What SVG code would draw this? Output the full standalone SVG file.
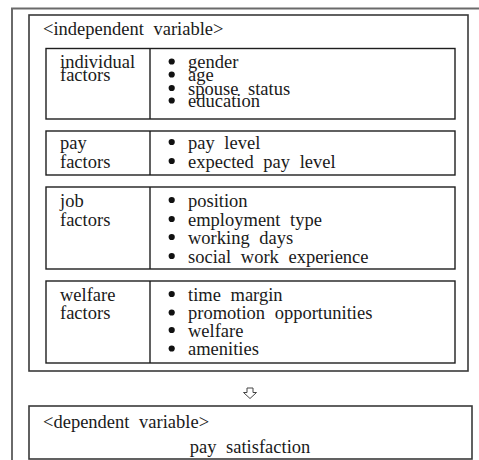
<svg xmlns="http://www.w3.org/2000/svg" width="479" height="460" viewBox="0 0 479 460">
<style>
text{font-family:'Liberation Serif','DejaVu Serif',serif;font-size:18.5px;fill:#1a1a1a;word-spacing:5px}
.frame{fill:none;stroke:#6a6a6a;stroke-width:2}
.box{fill:none;stroke:#3a3a3a;stroke-width:1.6}
.fbox{fill:none;stroke:#1e1e1e;stroke-width:1.4}
.bul{fill:#111}
.arrow{fill:#fff;stroke:#444;stroke-width:1}
</style>
<rect width="479" height="460" fill="#fff"/>
<path class="frame" d="M12,460 V8.5 H479"/>
<g id="independent">
<rect class="box" x="29" y="15" width="439" height="356"/>
<text x="43" y="35" font-family="Liberation Serif, serif">&lt;independent variable&gt;</text>
</g>
<g id="individual">
<rect class="fbox" x="46" y="48.5" width="409" height="70.5"/>
<line class="fbox" x1="150" y1="48.5" x2="150" y2="119"/>
<text x="60" y="68">individual</text>
<text x="60" y="81">factors</text>
<circle class="bul" cx="171.7" cy="61.5" r="3.1"/>
<circle class="bul" cx="171.7" cy="74.5" r="3.1"/>
<circle class="bul" cx="171.7" cy="88" r="3.1"/>
<circle class="bul" cx="171.7" cy="100.5" r="3.1"/>
<text x="188" y="68">gender</text>
<text x="188" y="81">age</text>
<text x="188" y="94.5">spouse status</text>
<text x="188" y="107">education</text>
</g>
<g id="pay">
<rect class="fbox" x="46" y="131" width="409" height="44"/>
<line class="fbox" x1="150" y1="131" x2="150" y2="175"/>
<text x="60" y="148.5">pay</text>
<text x="60" y="167.5">factors</text>
<circle class="bul" cx="171.7" cy="142" r="3.1"/>
<circle class="bul" cx="171.7" cy="161" r="3.1"/>
<text x="188" y="148.5">pay level</text>
<text x="188" y="167.5">expected pay level</text>
</g>
<g id="job">
<rect class="fbox" x="46" y="187" width="409" height="82"/>
<line class="fbox" x1="150" y1="187" x2="150" y2="269"/>
<text x="60" y="206.5">job</text>
<text x="60" y="225.5">factors</text>
<circle class="bul" cx="171.7" cy="200" r="3.1"/>
<circle class="bul" cx="171.7" cy="219" r="3.1"/>
<circle class="bul" cx="171.7" cy="237" r="3.1"/>
<circle class="bul" cx="171.7" cy="256" r="3.1"/>
<text x="188" y="206.5">position</text>
<text x="188" y="225.5">employment type</text>
<text x="188" y="243.5">working days</text>
<text x="188" y="262.5">social work experience</text>
</g>
<g id="welfare">
<rect class="fbox" x="46" y="281" width="409" height="82"/>
<line class="fbox" x1="150" y1="281" x2="150" y2="363"/>
<text x="60" y="300.5">welfare</text>
<text x="60" y="319">factors</text>
<circle class="bul" cx="171.7" cy="294" r="3.1"/>
<circle class="bul" cx="171.7" cy="312.5" r="3.1"/>
<circle class="bul" cx="171.7" cy="330" r="3.1"/>
<circle class="bul" cx="171.7" cy="348.5" r="3.1"/>
<text x="188" y="300.5">time margin</text>
<text x="188" y="319">promotion opportunities</text>
<text x="188" y="336.5">welfare</text>
<text x="188" y="355">amenities</text>
</g>
<g id="connectors">
<path class="arrow" d="M247,388 H253 V392.5 H256.5 L250,398.5 L243.5,392.5 H247 Z"/>
</g>
<g id="dependent">
<rect class="box" x="29" y="406" width="443" height="53"/>
<text x="43" y="428">&lt;dependent variable&gt;</text>
<text x="250" y="453" text-anchor="middle">pay satisfaction</text>
</g>
</svg>
